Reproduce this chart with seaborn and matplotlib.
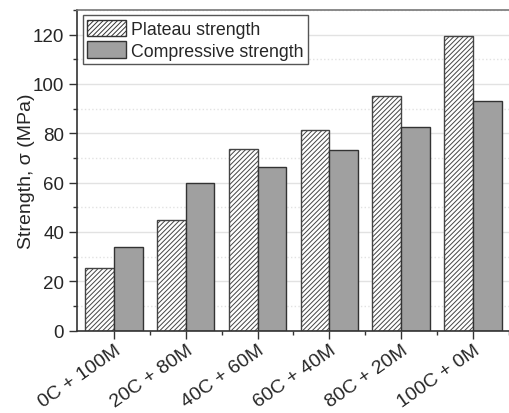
import matplotlib
matplotlib.use("Agg")
import matplotlib.pyplot as plt
import matplotlib.transforms as mtrans
from matplotlib.ticker import MultipleLocator
import seaborn as sns
import pandas as pd

categories = ["0C + 100M", "20C + 80M", "40C + 60M", "60C + 40M", "80C + 20M", "100C + 0M"]
plateau = [25.2, 44.9, 73.7, 81.3, 95.0, 119.4]
compressive = [33.7, 59.8, 66.5, 73.3, 82.6, 92.9]
series = ["Plateau strength", "Compressive strength"]

df = pd.DataFrame({
    "cat": categories * 2,
    "val": plateau + compressive,
    "series": [series[0]] * len(categories) + [series[1]] * len(categories),
})

sns.set_theme(style="white")
plt.rcParams["font.family"] = ["Liberation Sans", "DejaVu Sans"]
plt.rcParams["hatch.color"] = "#909090"
plt.rcParams["hatch.linewidth"] = 0.7

W, H = 509, 414
fig = plt.figure(figsize=(W / 100, H / 100), dpi=100)
ax = fig.add_axes([76.5 / W, 1 - 331.5 / H, 1 - 76.5 / W, (331.5 - 11) / H])

sns.barplot(data=df, x="cat", y="val", hue="series", hue_order=series,
            order=categories, ax=ax, width=0.8, gap=0, saturation=1,
            palette=["white", "#a0a0a0"], edgecolor="#333333", linewidth=1.0,
            errorbar=None)

for bar in ax.containers[0]:
    bar.set_hatch("///////")
    bar.set_facecolor("white")
    bar.set_edgecolor("#444444")
for bar in ax.containers[1]:
    bar.set_facecolor("#a0a0a0")
    bar.set_edgecolor("#333333")

ax.set_ylim(0, 130)
ax.set_xlim(-0.52, 5.44)
ax.yaxis.set_major_locator(MultipleLocator(20))
ax.yaxis.set_minor_locator(MultipleLocator(10))
ax.set_xticks(range(len(categories)))
ax.set_xticks([i + 0.5 for i in range(len(categories))], minor=True)
ax.set_xticklabels(categories, rotation=35, ha="right", va="top",
                   rotation_mode="anchor", fontsize=14)
offset = mtrans.ScaledTranslation(5 / 100, 0, fig.dpi_scale_trans)
for lab in ax.get_xticklabels():
    lab.set_transform(lab.get_transform() + offset)
ax.tick_params(axis="y", labelsize=13.5, pad=3)
ax.tick_params(axis="x", pad=2)
ax.tick_params(axis="both", which="major", direction="out", length=6, width=1.0, color="#333333",
               bottom=True, left=True)
ax.tick_params(axis="both", which="minor", direction="out", length=3, width=1.0, color="#333333",
               bottom=True, left=True)

ax.set_axisbelow(True)
ax.grid(axis="y", which="major", color="#e2e2e2", linestyle="-", linewidth=1.0)
ax.grid(axis="y", which="minor", color="#e2e2e2", linestyle=":", linewidth=1.0)
ax.grid(axis="x", which="both", visible=False)

ax.set_xlabel("")
ax.set_ylabel("Strength, σ (MPa)", fontsize=14)
ax.yaxis.set_label_coords((35 - 76.5) / (W - 76.5), 0.5)

for s in ["left", "bottom"]:
    ax.spines[s].set_color("#333333")
    ax.spines[s].set_linewidth(1.2)
ax.spines["top"].set_color("#777777")
ax.spines["top"].set_linewidth(1.2)
ax.spines["right"].set_visible(False)

leg = ax.legend(loc="upper left", bbox_to_anchor=(0.014, 0.984), fontsize=12.8,
                frameon=True, fancybox=False, edgecolor="#555555", framealpha=1,
                handlelength=2.2, handleheight=1.05, borderpad=0.25, labelspacing=0.2,
                handletextpad=0.3, borderaxespad=0.0, title=None)
leg.get_frame().set_linewidth(1.0)
for h in leg.legend_handles:
    h.set_edgecolor("#333333")
leg.legend_handles[0].set_hatch("///////")
leg.legend_handles[0].set_facecolor("white")

fig.savefig("out.png", dpi=100)
